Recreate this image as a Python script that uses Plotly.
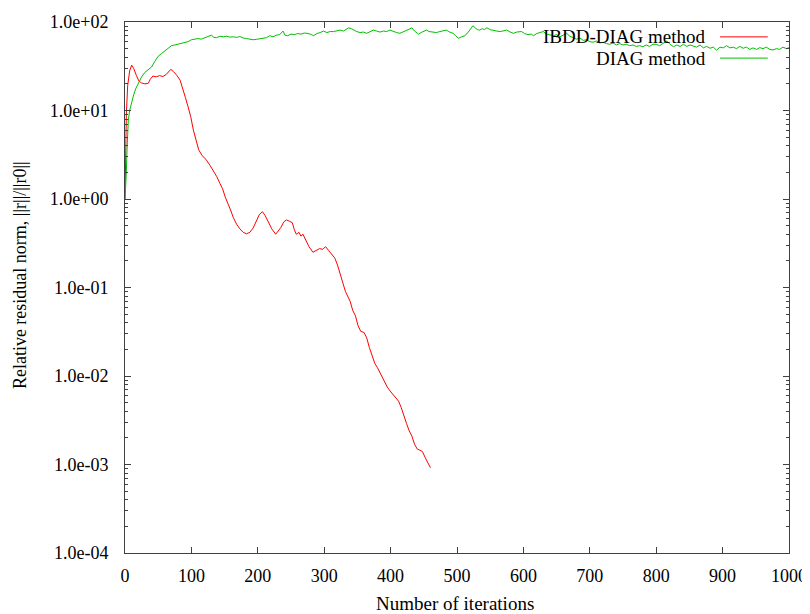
import plotly.graph_objects as go

# IBDD-DIAG method (red)
ibdd_iter = [0, 1, 2, 4, 7, 10, 13, 17, 21, 25, 30, 35, 38, 42, 47, 52, 57, 62, 66, 69, 73, 78, 83, 87,
             91, 95, 99, 103, 107, 111, 116, 122, 128, 133, 138, 143, 147, 151, 155, 159, 163, 168, 173,
             178, 183, 188, 193, 198, 202, 207, 211, 216, 221, 227, 231, 235, 239, 243, 248, 252, 255,
             258, 262, 265, 268, 272, 277, 283, 288, 293, 298, 302, 307, 312, 316, 320, 324, 328, 332,
             336, 339, 343, 347, 351, 355, 360, 364, 368, 372, 376, 380, 385, 390, 395, 399, 404, 408,
             412, 416, 420, 424, 428, 432, 436, 440, 444, 448, 452, 456, 460]
ibdd_res = [1.0, 2.8, 9, 19, 28, 32.5, 30, 25, 21.5, 20.5, 20, 20.3, 22.5, 24.5, 24, 24.8, 24.2, 25.5, 28,
            29.2, 27.5, 25, 22, 18, 14, 11, 8.5, 6, 4.6, 3.6, 3.1, 2.8, 2.4, 2.1, 1.8, 1.5, 1.3, 1.05,
            0.9, 0.75, 0.62, 0.52, 0.46, 0.42, 0.405, 0.42, 0.47, 0.56, 0.66, 0.72, 0.65, 0.55, 0.46,
            0.40, 0.44, 0.48, 0.55, 0.58, 0.56, 0.54, 0.45, 0.40, 0.42, 0.38, 0.40, 0.34, 0.29, 0.25,
            0.265, 0.275, 0.27, 0.29, 0.26, 0.235, 0.215, 0.18, 0.14, 0.11, 0.09, 0.078, 0.07, 0.055,
            0.048, 0.037, 0.032, 0.031, 0.027, 0.021, 0.017, 0.014, 0.0125, 0.0105, 0.0088, 0.0075,
            0.0068, 0.0062, 0.0057, 0.0052, 0.0044, 0.0035, 0.0029, 0.0024, 0.0021, 0.0017, 0.0015,
            0.00145, 0.0014, 0.0012, 0.00105, 0.00092]

# DIAG method (green)
diag_iter = [0, 1, 2, 3, 4, 5, 7, 10, 13, 16, 20, 25, 30, 35, 40, 45, 50, 55, 60, 65, 70, 75, 80, 85,
             90, 95, 100, 105, 110, 115, 120, 125, 130, 134, 138, 143, 148, 153, 158, 163, 168, 173,
             178, 183, 188, 193, 198, 203, 208, 213, 218, 223, 228, 233, 238, 241, 245, 250, 255, 260,
             265, 270, 274, 279, 284, 289, 294, 299, 304, 309, 314, 319, 324, 329, 333, 337, 341, 345,
             349, 354, 359, 364, 369, 374, 379, 384, 389, 394, 399, 404, 409, 414, 419, 424, 428, 432,
             436, 440, 442, 446, 450, 454, 458, 463, 469, 474, 479, 484, 489, 494, 498, 502, 507, 512,
             517, 521, 524, 528, 531, 534, 538, 541, 545, 550, 555, 560, 565, 570, 575, 580, 585, 590,
             597, 602, 607, 612, 615, 620, 625, 630, 635, 640, 645, 650, 655, 660, 665, 670, 675, 680,
             685, 690, 695, 700, 705, 710, 715, 720, 725, 730, 735, 740, 745, 750, 755, 760, 765, 770,
             775, 780, 785, 790, 795, 800, 805, 810, 816, 821, 826, 831, 836, 841, 846, 851, 856, 861,
             866, 871, 876, 881, 886, 891, 896, 901, 906, 911, 916, 921, 926, 931, 936, 941, 946, 951,
             956, 961, 966, 971, 976, 981, 986, 991, 996, 1000]
diag_res = [1.0, 1.3, 2.0, 3.5, 5.5, 7.8, 10, 12.5, 15, 17.5, 20, 24, 27, 29, 31, 36, 41, 44, 47, 50, 54,
            55, 56, 57, 58, 60, 63, 64, 65, 64, 66, 68, 71, 67, 66.5, 69, 68, 69, 67.5, 68, 67, 68.5,
            66, 65, 64, 63, 63.7, 64.5, 66, 66.5, 70, 68, 71, 72, 79, 71, 70, 73, 72, 74, 73, 75, 74.5,
            73, 70, 74, 76, 79, 76, 78, 78, 80, 81, 79, 83, 86, 84, 80, 78, 76, 77, 74.5, 78, 81, 79,
            77, 79, 78, 81, 78, 76, 74.5, 77, 80, 83, 86, 79, 75, 72.6, 76, 79, 81, 78, 77, 76, 78, 80,
            81, 77, 74.5, 70, 65.4, 68, 70, 77, 86, 90.8, 85, 82, 81, 84, 82, 86, 82, 80, 79, 78, 80,
            81, 77, 74.5, 77, 78, 74, 72, 73, 70, 74, 76, 78, 73, 71, 70, 72, 68, 71, 74.5, 69, 66.5,
            64, 66, 62, 63, 60, 59, 61, 58, 59, 57, 56, 58, 55, 57, 55, 56, 54, 55, 53, 54, 52.6, 55,
            53, 56, 56, 54, 57, 61, 56, 52.6, 55, 53, 56, 53, 55, 54, 52, 55, 51, 53, 50.5, 52, 48, 52,
            51, 54, 51, 52, 50, 53, 50.5, 52, 49, 51, 49, 51.3, 50, 52, 49, 48.3, 50, 49, 52, 50, 51.3]

x_ticks = [0, 100, 200, 300, 400, 500, 600, 700, 800, 900, 1000]
y_ticks = [1e-4, 1e-3, 1e-2, 1e-1, 1e0, 1e1, 1e2]
y_tick_text = ["1.0e-04", "1.0e-03", "1.0e-02", "1.0e-01", "1.0e+00", "1.0e+01", "1.0e+02"]
series_names = ["IBDD-DIAG method", "DIAG method"]
series_colors = ["#ff0000", "#00c000"]
x_title = "Number of iterations"
y_title = "Relative residual norm, ||r||/||r0||"

FONT = "Liberation Serif"
AXIS_COLOR = "#404040"

fig = go.Figure()
fig.add_trace(go.Scatter(x=ibdd_iter, y=ibdd_res, mode="lines", name=series_names[0],
                         line=dict(color=series_colors[0], width=1)))
fig.add_trace(go.Scatter(x=diag_iter, y=diag_res, mode="lines", name=series_names[1],
                         line=dict(color=series_colors[1], width=1)))

minor_y = [m * 10.0 ** e for e in range(-4, 2) for m in (2, 3, 4, 5, 6, 7, 8, 9)]

# the page body adds an 8px margin, so the figure is 802x606 and offset by it
fig.update_layout(
    width=802, height=606,
    margin=dict(l=117, r=21, t=14, b=61),
    paper_bgcolor="white", plot_bgcolor="white",
    showlegend=False,
    font=dict(family=FONT, size=18, color="black"),
    xaxis=dict(
        range=[0, 1000], tickvals=x_ticks, ticks="inside", ticklen=6, tickcolor=AXIS_COLOR,
        showline=True, linecolor=AXIS_COLOR, linewidth=1, mirror="ticks", showgrid=False,
        zeroline=False, ticklabelstandoff=6, automargin=False,
        tickfont=dict(family=FONT, size=18),
    ),
    yaxis=dict(
        type="log", range=[-4, 2], tickvals=y_ticks, ticktext=y_tick_text, ticks="inside",
        ticklen=6, tickcolor=AXIS_COLOR, showline=True, linecolor=AXIS_COLOR, linewidth=1,
        mirror="ticks", showgrid=False, zeroline=False, ticklabelstandoff=12, automargin=False,
        tickfont=dict(family=FONT, size=18),
        minor=dict(tickvals=minor_y, ticks="inside", ticklen=3, tickcolor=AXIS_COLOR, showgrid=False),
    ),
)

# axis titles
fig.add_annotation(x=0.497, y=-0.096, xref="paper", yref="paper", text=x_title, showarrow=False,
                   xanchor="center", yanchor="middle", font=dict(family=FONT, size=19, color="black"))
fig.add_annotation(x=-0.158, y=0.5235, xref="paper", yref="paper", text=y_title, showarrow=False,
                   textangle=-90, xanchor="center", yanchor="middle",
                   font=dict(family=FONT, size=18, color="black"))

# gnuplot-style key: right-aligned text with the line sample on its right
legend_y = [0.972, 0.932]
for name, color, yy in zip(series_names, series_colors, legend_y):
    fig.add_annotation(x=0.878, y=yy, xref="paper", yref="paper", text=name, showarrow=False,
                       xanchor="right", yanchor="middle", font=dict(family=FONT, size=19, color="black"))
    fig.add_shape(type="line", xref="paper", yref="paper", x0=0.896, x1=0.968, y0=yy, y1=yy,
                  line=dict(color=color, width=1))

fig.write_html("out.html")
